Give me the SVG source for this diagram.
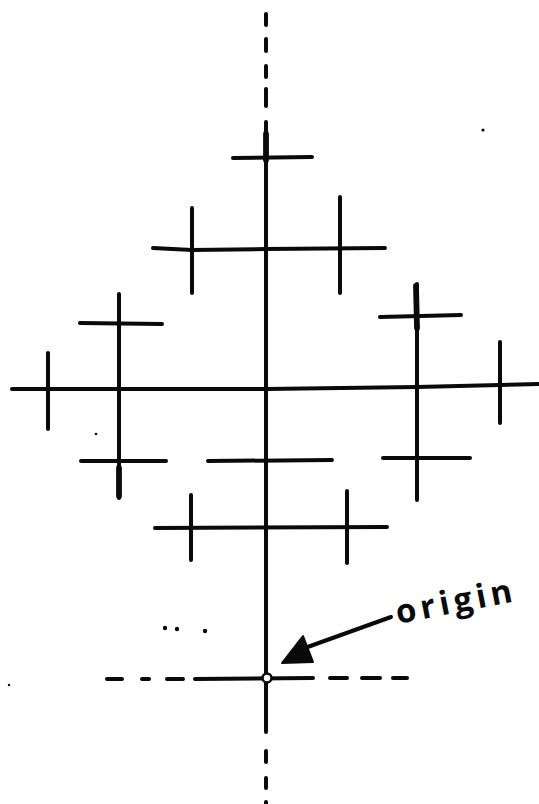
<svg xmlns="http://www.w3.org/2000/svg" width="539" height="804" viewBox="0 0 539 804">
<style>
.ln{stroke:#0a0a0a;stroke-width:4;stroke-linecap:round;fill:none}
.thk{stroke:#0a0a0a;stroke-width:5.8;stroke-linecap:round;fill:none}
.dot{fill:#0a0a0a}
.lbl{font-family:"Open Sans","Liberation Sans",sans-serif;font-size:33px;font-weight:700;fill:#0a0a0a}
</style>
<rect width="539" height="804" fill="#ffffff"/>
<g id="connectors">
  <g id="main-vertical">
    <line class="ln" x1="266" y1="14" x2="266" y2="25"/>
    <line class="ln" x1="266" y1="39" x2="266" y2="51"/>
    <line class="ln" x1="266" y1="66" x2="266" y2="77"/>
    <line class="ln" x1="266" y1="89" x2="266" y2="106"/>
    <line class="ln" x1="266" y1="122" x2="266" y2="732"/>
    <line class="thk" x1="266" y1="134" x2="266" y2="160"/>
    <line class="ln" x1="266" y1="751" x2="266" y2="762"/>
    <line class="ln" x1="266" y1="778" x2="266" y2="788"/>
    <line class="ln" x1="266" y1="802" x2="266" y2="806"/>
  </g>
  <polyline id="main-horizontal" class="ln" points="12,389 266,389 417,387 539,384"/>
  <g id="origin-horizontal">
    <line class="ln" x1="107" y1="679" x2="122" y2="679"/>
    <line class="ln" x1="142" y1="679" x2="149" y2="679"/>
    <line class="ln" x1="167" y1="679" x2="183" y2="679"/>
    <line class="ln" x1="195" y1="679" x2="313" y2="678"/>
    <line class="ln" x1="330" y1="678" x2="347" y2="678"/>
    <line class="ln" x1="362" y1="678" x2="380" y2="678"/>
    <line class="ln" x1="393" y1="678" x2="407" y2="678"/>
  </g>
  <g id="arrow">
    <line class="ln" x1="391" y1="617" x2="302" y2="649" stroke-width="4.8"/>
    <polygon points="282,663 303,636 313,662" fill="#0a0a0a" stroke="#0a0a0a" stroke-width="2" stroke-linejoin="round"/>
  </g>
</g>
<g id="top-cross">
  <line class="ln" x1="233" y1="158" x2="312" y2="157"/>
</g>
<g id="upper-bar">
  <polyline class="ln" points="153,248 192,250 266,249 385,248"/>
  <line class="ln" x1="192" y1="208" x2="192" y2="293"/>
  <line class="ln" x1="340" y1="197" x2="340" y2="293"/>
</g>
<g id="left-branch">
  <line class="ln" x1="119" y1="294" x2="119" y2="498"/>
  <line class="thk" x1="119" y1="468" x2="119" y2="496"/>
  <line class="ln" x1="80" y1="323" x2="162" y2="324"/>
  <line class="ln" x1="81" y1="461" x2="166" y2="461"/>
  <line class="ln" x1="48" y1="353" x2="48" y2="429"/>
</g>
<g id="right-branch">
  <line class="ln" x1="417" y1="284" x2="417" y2="500"/>
  <line class="thk" x1="416" y1="286" x2="417" y2="328"/>
  <line class="ln" x1="380" y1="317" x2="461" y2="315"/>
  <line class="ln" x1="383" y1="458" x2="470" y2="458"/>
  <line class="ln" x1="500" y1="342" x2="500" y2="423"/>
</g>
<g id="center-lower-bar">
  <line class="ln" x1="208" y1="461" x2="332" y2="460"/>
</g>
<g id="lower-bar">
  <line class="ln" x1="155" y1="528" x2="387" y2="527"/>
  <line class="ln" x1="191" y1="495" x2="191" y2="560"/>
  <line class="ln" x1="347" y1="491" x2="347" y2="563"/>
</g>
<g id="origin">
  <circle cx="267" cy="678" r="4.5" fill="#ffffff" stroke="#0a0a0a" stroke-width="2.6"/>
</g>
<g id="origin-label">
  <text class="lbl" x="398" y="624" textLength="118" lengthAdjust="spacing" transform="rotate(-11 398 624)">origin</text>
</g>
<g id="marks">
  <circle class="dot" cx="165" cy="628" r="2.2"/>
  <circle class="dot" cx="177" cy="629" r="2.2"/>
  <circle class="dot" cx="205" cy="631" r="2.2"/>
  <circle class="dot" cx="96" cy="434" r="1.3"/>
  <circle class="dot" cx="483" cy="130" r="1.6"/>
  <circle class="dot" cx="9" cy="685" r="1.2"/>
</g>
</svg>
